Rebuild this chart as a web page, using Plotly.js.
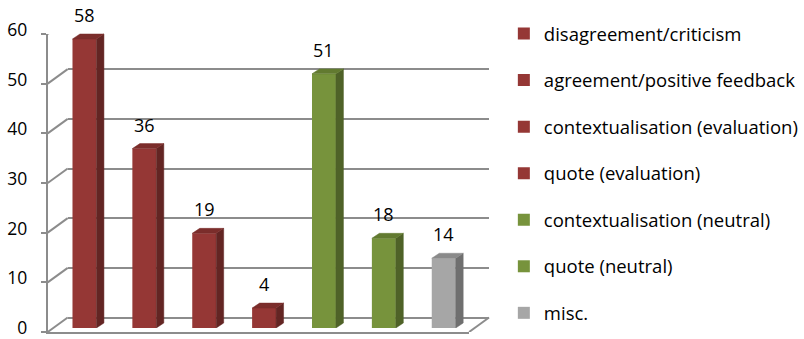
<!DOCTYPE html>
<html>
<head>
<meta charset="utf-8">
<script src="https://cdn.plot.ly/plotly-3.0.1.min.js"></script>
<style>
  html, body { margin: 0; padding: 0; background: #ffffff; }
  #chart { width: 804px; height: 339px; }
</style>
</head>
<body>
<div id="chart"></div>
<script>
// Reply categories and their counts
const categories = [
  'disagreement/criticism',
  'agreement/positive feedback',
  'contextualisation (evaluation)',
  'quote (evaluation)',
  'contextualisation (neutral)',
  'quote (neutral)',
  'misc.'
];
const counts = [58, 36, 19, 4, 51, 18, 14];

// Colour groups: evaluative (red), neutral (green), other (grey)
const frontColors = ['#953735', '#953735', '#953735', '#953735', '#77933c', '#77933c', '#a6a6a6'];
const sideColors  = ['#632523', '#632523', '#632523', '#632523', '#4f6228', '#4f6228', '#6f6f6f'];
const topColors   = ['#7b2d2b', '#7b2d2b', '#7b2d2b', '#7b2d2b', '#627a30', '#627a30', '#8a8a8a'];

const W = 804, H = 339;
const FONT = '"Open Sans", "DejaVu Sans", sans-serif';
const GRID = '#8c8c8c';

// bar geometry in axis units; the depth offset gives the extruded look
const barWidth = 0.4;
const depthX = 0.125;   // horizontal shift of the back faces
const depthY = 1.0;     // vertical shift of the back faces

const traces = [];

// front faces, one trace per category so each gets a legend entry
categories.forEach((name, i) => {
  traces.push({
    type: 'bar',
    x: [i],
    y: [counts[i]],
    name: name,
    width: barWidth,
    marker: { color: frontColors[i], line: { width: 0 } },
    legendgroup: 'g' + i,
    hoverinfo: 'name+y',
    xaxis: 'x', yaxis: 'y'
  });
});

// side and top faces drawn as filled polygons on the same axes
categories.forEach((name, i) => {
  const l = i - barWidth / 2, r = i + barWidth / 2, v = counts[i];
  traces.push({
    type: 'scatter', mode: 'lines', fill: 'toself',
    x: [r, r + depthX, r + depthX, r, r],
    y: [0, depthY, v + depthY, v, 0],
    fillcolor: sideColors[i],
    line: { width: 0.5, color: sideColors[i] },
    showlegend: false, hoverinfo: 'skip',
    xaxis: 'x', yaxis: 'y'
  });
  traces.push({
    type: 'scatter', mode: 'lines', fill: 'toself',
    x: [l, l + depthX, r + depthX, r, l],
    y: [v, v + depthY, v + depthY, v, v],
    fillcolor: topColors[i],
    line: { width: 0.5, color: topColors[i] },
    showlegend: false, hoverinfo: 'skip',
    xaxis: 'x', yaxis: 'y'
  });
});

// placeholder so the front (value) axis pair is always laid out
traces.push({
  type: 'scatter', x: [], y: [], xaxis: 'x2', yaxis: 'y2',
  showlegend: false, hoverinfo: 'skip'
});

// value labels above each bar
const annotations = categories.map((name, i) => ({
  x: i, y: counts[i], xref: 'x', yref: 'y',
  text: String(counts[i]),
  showarrow: false,
  yanchor: 'middle', xanchor: 'center',
  yshift: 24,
  font: { family: FONT, size: 18, color: '#000000' }
}));

// oblique edges joining the front value axis to the back wall
const tickValues = [0, 10, 20, 30, 40, 50, 60];
const shapes = tickValues.map(v => ({
  type: 'line', layer: 'below',
  xref: 'paper', xsizemode: 'pixel', xanchor: 48 / W, x0: 0, x1: 20,
  yref: 'y2', ysizemode: 'pixel', yanchor: v, y0: 0, y1: 14.5,
  line: { color: GRID, width: 2 }
}));
// right-hand edge of the floor
shapes.push({
  type: 'line', layer: 'below',
  xref: 'paper', xsizemode: 'pixel', xanchor: 472 / W, x0: 0, x1: 20,
  yref: 'y2', ysizemode: 'pixel', yanchor: 0, y0: 0, y1: 14.5,
  line: { color: GRID, width: 2 }
});

const pxPerUnit = 4.983;
const yTop = 62.05;

const layout = {
  width: W, height: H,
  margin: { l: 0, r: 0, t: 0, b: 0 },
  paper_bgcolor: '#ffffff',
  plot_bgcolor: 'rgba(0,0,0,0)',
  showlegend: true,
  barmode: 'overlay',
  font: { family: FONT, size: 18, color: '#000000' },
  // back wall: gridlines sit one depth step above the bars' baseline
  xaxis: {
    domain: [68 / W, 492 / W],
    range: [-0.282, 6.755],
    showgrid: false, zeroline: false, showticklabels: false,
    ticks: '', showline: false, fixedrange: true
  },
  yaxis: {
    domain: [1 - 328 / H, 1 - (328 - yTop * pxPerUnit) / H],
    range: [0, yTop],
    tickmode: 'linear', tick0: 2, dtick: 10,
    showgrid: true, gridcolor: GRID, gridwidth: 2,
    zeroline: false, showticklabels: false, ticks: '',
    showline: false, fixedrange: true
  },
  // front plane: value axis and front floor edge
  xaxis2: {
    domain: [48 / W, 472 / W],
    anchor: 'y2',
    range: [0, 1],
    showgrid: false, zeroline: false, showticklabels: false, ticks: '',
    showline: true, linecolor: GRID, linewidth: 2, fixedrange: true
  },
  yaxis2: {
    domain: [1 - 332 / H, 1 - 34 / H],
    anchor: 'x2',
    range: [0, 60],
    tickmode: 'linear', tick0: 0, dtick: 10,
    showgrid: false, zeroline: false,
    showline: true, linecolor: GRID, linewidth: 2,
    ticks: 'outside', ticklen: 5, tickwidth: 2, tickcolor: GRID,
    ticklabelstandoff: 10,
    ticklabelshift: -4,
    ticklabeloverflow: 'allow',
    tickfont: { family: FONT, size: 17.5, color: '#000000' },
    fixedrange: true
  },
  legend: {
    x: 507 / W, xanchor: 'left',
    y: 1 - 15 / H, yanchor: 'top',
    bgcolor: 'rgba(0,0,0,0)',
    borderwidth: 0,
    itemwidth: 30,
    tracegroupgap: 19.5,
    traceorder: 'grouped',
    font: { family: FONT, size: 18.5, color: '#000000' }
  },
  annotations: annotations,
  shapes: shapes
};

Plotly.newPlot('chart', traces, layout, { displayModeBar: false, staticPlot: true });
</script>
</body>
</html>
